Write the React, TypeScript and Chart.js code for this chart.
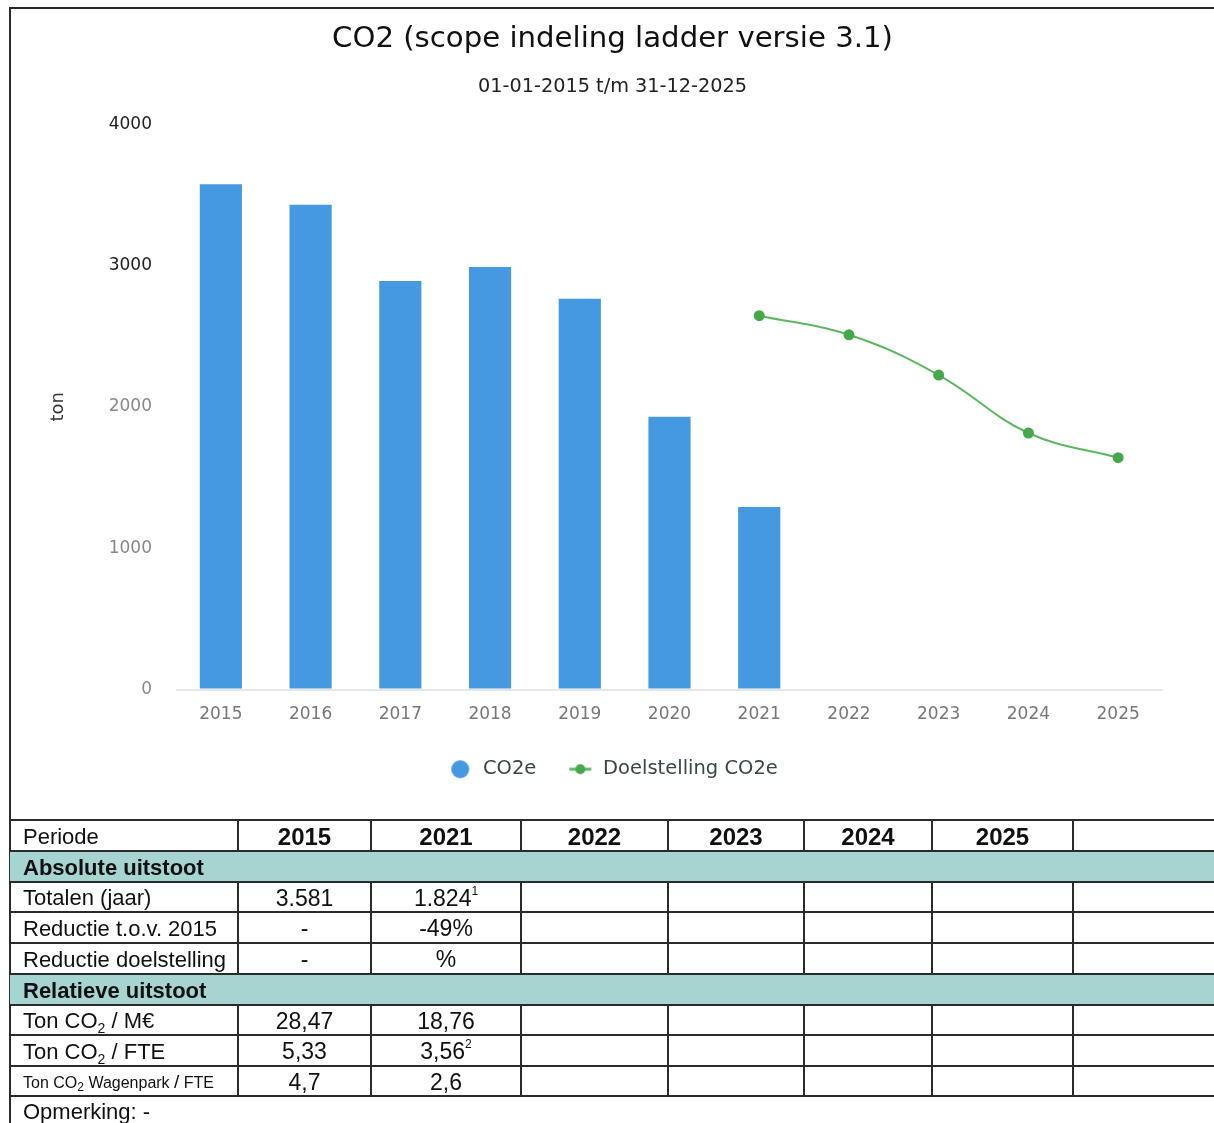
import React, { useEffect, useRef } from 'react';
import { Chart, registerables } from 'chart.js';

Chart.register(...registerables);

const FONT = '"DejaVu Sans", Verdana, sans-serif';
const TFONT = '"Liberation Sans", Arial, sans-serif';

const categories = ['2015', '2016', '2017', '2018', '2019', '2020', '2021', '2022', '2023', '2024', '2025'];
const co2e = [3575, 3430, 2890, 2990, 2765, 1930, 1292, null, null, null, null];
const doelstelling = [null, null, null, null, null, null, 2645, 2510, 2225, 1815, 1640];
const yTickMax = 4000;
const yTickStep = 1000;

const chartTitle = 'CO2 (scope indeling ladder versie 3.1)';
const chartSubtitle = '01-01-2015 t/m 31-12-2025';
const seriesNames = ['CO2e', 'Doelstelling CO2e'];

const tableYears = ['2015', '2021', '2022', '2023', '2024', '2025', ''];
const totalen = ['3.581', '1.824^1'];
const reductie2015 = ['-', '-49%'];
const reductieDoel = ['-', '%'];
const tonPerMEuro = ['28,47', '18,76'];
const tonPerFte = ['5,33', '3,56^2'];
const tonWagenparkPerFte = ['4,7', '2,6'];

const BAR_COLOR = '#4499e0';
const LINE_COLOR = '#5cb660';
const POINT_COLOR = '#45a84a';
const TEAL = '#a6d4d1';
const LINE = '#2b2b2b';

// table geometry
const colX = [9, 238, 371, 521, 668, 804, 932, 1073, 1214];
const rowY = [820, 851, 882, 912, 943, 974, 1005, 1035, 1066, 1096, 1123];

function renderVal(v: string) {
  const parts = v.split('^');
  if (parts.length === 1) return v;
  return (
    <>
      {parts[0]}
      <sup style={{ fontSize: 12, verticalAlign: 'top', lineHeight: '14px', position: 'relative', top: -1 }}>{parts[1]}</sup>
    </>
  );
}

const Sub2 = () => <sub style={{ fontSize: 14, verticalAlign: 'baseline', position: 'relative', top: 5 }}>2</sub>;

function makeLegendImages() {
  const blue = document.createElement('canvas');
  blue.width = 26;
  blue.height = 20;
  const b = blue.getContext('2d')!;
  b.fillStyle = BAR_COLOR;
  b.beginPath();
  b.arc(13, 10, 9, 0, Math.PI * 2);
  b.fill();

  const green = document.createElement('canvas');
  green.width = 26;
  green.height = 12;
  const g = green.getContext('2d')!;
  g.strokeStyle = LINE_COLOR;
  g.lineWidth = 3;
  g.beginPath();
  g.moveTo(2, 6);
  g.lineTo(24, 6);
  g.stroke();
  g.fillStyle = POINT_COLOR;
  g.beginPath();
  g.arc(13, 6, 5, 0, Math.PI * 2);
  g.fill();
  return [blue, green];
}

function ChartPart() {
  const ref = useRef<HTMLCanvasElement | null>(null);
  useEffect(() => {
    if (!ref.current) return;
    const [blueImg, greenImg] = makeLegendImages();
    const chart = new Chart(ref.current, {
      type: 'bar',
      data: {
        labels: categories,
        datasets: [
          {
            type: 'bar',
            label: seriesNames[0],
            data: co2e as any,
            backgroundColor: BAR_COLOR,
            barPercentage: 0.47,
            categoryPercentage: 1,
            order: 2,
          } as any,
          {
            type: 'line',
            label: seriesNames[1],
            data: doelstelling as any,
            borderColor: LINE_COLOR,
            backgroundColor: POINT_COLOR,
            pointBackgroundColor: POINT_COLOR,
            pointBorderColor: POINT_COLOR,
            pointRadius: 4.5,
            borderWidth: 2,
            tension: 0.4,
            order: 1,
          } as any,
        ],
      },
      options: {
        responsive: false,
        animation: false,
        layout: { padding: { left: 0, right: 0, top: 0, bottom: 31 } },
        plugins: {
          title: {
            display: true,
            text: chartTitle,
            color: '#111',
            font: { family: FONT, size: 29.2, weight: 'normal' },
            padding: { top: 13, bottom: 0 },
          },
          subtitle: {
            display: true,
            text: chartSubtitle,
            color: '#222',
            font: { family: FONT, size: 19.3, weight: 'normal' },
            padding: { top: 18, bottom: 26 },
          },
          legend: {
            position: 'bottom',
            labels: {
              usePointStyle: true,
              pointStyleWidth: 26,
              boxHeight: 10,
              padding: 31,
              color: '#3a4646',
              font: { family: FONT, size: 19.5 },
              generateLabels: () => [
                {
                  text: seriesNames[0],
                  pointStyle: blueImg as any,
                  fillStyle: BAR_COLOR,
                  strokeStyle: 'rgba(0,0,0,0)',
                  lineWidth: 0,
                  hidden: false,
                  datasetIndex: 0,
                  fontColor: '#3a4646',
                } as any,
                {
                  text: seriesNames[1],
                  pointStyle: greenImg as any,
                  fillStyle: POINT_COLOR,
                  strokeStyle: 'rgba(0,0,0,0)',
                  lineWidth: 0,
                  hidden: false,
                  datasetIndex: 1,
                  fontColor: '#3a4646',
                } as any,
              ],
            },
          },
          tooltip: { enabled: false },
        },
        scales: {
          x: {
            grid: { display: false, drawTicks: false },
            border: { display: false },
            ticks: { color: '#777', font: { family: FONT, size: 17 }, padding: 15 },
            afterFit: (s: any) => {
              s.height = 39;
            },
          },
          y: {
            min: 0,
            max: yTickMax,
            ticks: {
              stepSize: yTickStep,
              padding: 24,
              font: { family: FONT, size: 17 },
              callback: (v: any) => String(v),
              color: (ctx: any) => (ctx.tick && ctx.tick.value >= 3000 ? '#222' : '#888'),
            },
            grid: {
              drawTicks: false,
              color: (ctx: any) => (ctx.tick && ctx.tick.value === 0 ? '#e6e6e6' : 'rgba(0,0,0,0)'),
              lineWidth: 2,
            },
            border: { display: false },
            title: {
              display: true,
              text: 'ton',
              color: '#333',
              font: { family: FONT, size: 18 },
              padding: { top: 37, bottom: 0 },
            },
            afterFit: (s: any) => {
              s.width = 165;
            },
          },
          yRight: {
            position: 'right',
            display: true,
            ticks: { display: false },
            grid: { display: false, drawTicks: false },
            border: { display: false },
            afterFit: (s: any) => {
              s.width = 51;
            },
          },
        },
      } as any,
    });
    return () => chart.destroy();
  }, []);
  return (
    <canvas
      ref={ref}
      width={1203}
      height={811}
      style={{ position: 'absolute', left: 11, top: 9, width: 1203, height: 811 }}
    />
  );
}

type Row = { kind: 'header' | 'section' | 'data' | 'note'; label: React.ReactNode; values?: string[]; small?: boolean };

const rows: Row[] = [
  { kind: 'header', label: 'Periode', values: tableYears },
  { kind: 'section', label: 'Absolute uitstoot' },
  { kind: 'data', label: 'Totalen (jaar)', values: totalen },
  { kind: 'data', label: 'Reductie t.o.v. 2015', values: reductie2015 },
  { kind: 'data', label: 'Reductie doelstelling', values: reductieDoel },
  { kind: 'section', label: 'Relatieve uitstoot' },
  { kind: 'data', label: <>Ton CO<Sub2 /> / M€</>, values: tonPerMEuro },
  { kind: 'data', label: <>Ton CO<Sub2 /> / FTE</>, values: tonPerFte },
  {
    kind: 'data',
    small: true,
    label: (
      <>
        Ton CO<span style={{ fontSize: 12, position: 'relative', top: 3 }}>2</span> Wagenpark <span style={{ fontSize: 19 }}>/</span> FTE
      </>
    ),
    values: tonWagenparkPerFte,
  },
  { kind: 'note', label: 'Opmerking: -' },
];

function TablePart() {
  const els: React.ReactNode[] = [];
  rows.forEach((r, i) => {
    const top = rowY[i];
    const bottom = rowY[i + 1];
    const h = bottom - top;
    if (r.kind === 'section') {
      els.push(
        <div key={'bg' + i} style={{ position: 'absolute', left: 10, top, width: 1204, height: h, background: TEAL }} />
      );
    }
    els.push(
      <div key={'hl' + i} style={{ position: 'absolute', left: 9, top: top - 1, width: 1205, height: 2, background: LINE }} />
    );
    if (r.kind === 'header' || r.kind === 'data') {
      for (let c = 1; c < colX.length - 1; c++) {
        els.push(
          <div
            key={'vl' + i + '_' + c}
            style={{ position: 'absolute', left: colX[c] - 1, top, width: 2, height: h, background: LINE }}
          />
        );
      }
    }
    els.push(
      <div
        key={'lb' + i}
        style={{
          position: 'absolute',
          left: 23,
          top,
          height: h,
          width: r.kind === 'section' || r.kind === 'note' ? 800 : colX[1] - 23,
          display: 'flex',
          alignItems: 'center',
          fontFamily: TFONT,
          fontSize: r.small ? 16 : 22,
          fontWeight: r.kind === 'section' ? 'bold' : 'normal',
          color: '#111',
          whiteSpace: 'nowrap',
          paddingTop: r.kind === 'note' ? 2 : 1,
        }}
      >
        <span>{r.label}</span>
      </div>
    );
    if (r.values) {
      r.values.forEach((v, c) => {
        els.push(
          <div
            key={'v' + i + '_' + c}
            style={{
              position: 'absolute',
              left: colX[c + 1],
              top,
              width: colX[c + 2] - colX[c + 1],
              height: h,
              display: 'flex',
              alignItems: 'center',
              justifyContent: 'center',
              fontFamily: TFONT,
              fontSize: r.kind === 'header' ? 24 : 23,
              fontWeight: r.kind === 'header' ? 'bold' : 'normal',
              color: '#111',
              whiteSpace: 'nowrap',
              paddingTop: 1,
            }}
          >
            <span>{renderVal(v)}</span>
          </div>
        );
      });
    }
  });
  return <>{els}</>;
}

export default function App() {
  return (
    <div
      style={{
        position: 'absolute',
        left: 0,
        top: 0,
        width: 1214,
        height: 1123,
        background: '#fff',
        overflow: 'hidden',
      }}
    >
      <div style={{ position: 'absolute', left: 9, top: 7, width: 1205, height: 2, background: LINE }} />
      <div style={{ position: 'absolute', left: 9, top: 7, width: 2, height: 1116, background: LINE }} />
      <ChartPart />
      <TablePart />
    </div>
  );
}
